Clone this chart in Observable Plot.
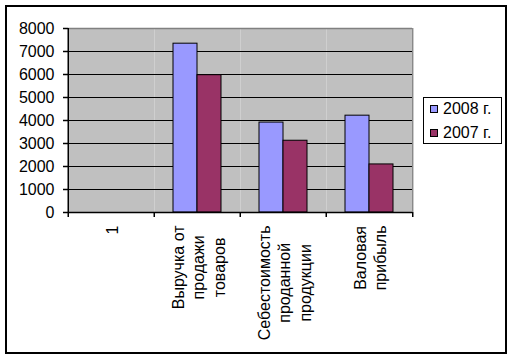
<!DOCTYPE html>
<html>
<head>
<meta charset="utf-8">
<script src="https://cdn.jsdelivr.net/npm/d3@7"></script>
<script src="https://cdn.jsdelivr.net/npm/@observablehq/plot@0.6"></script>
<style>
  html, body { margin: 0; padding: 0; background: #fff; }
  #wrap { position: relative; width: 513px; height: 359px; font-family: "Liberation Sans", Arial, sans-serif; }
  #wrap svg { position: absolute; left: 0; top: 0; }
  #border { position: absolute; left: 5px; top: 5px; width: 502px; height: 349px; box-sizing: border-box; border: 2px solid #000; pointer-events: none; }
  #legend { position: absolute; left: 423px; top: 97px; width: 79px; height: 47px; box-sizing: border-box; border: 1px solid #000; background: #fff; }
  .row { position: absolute; left: 6px; height: 18px; display: flex; align-items: center; font-size: 16px; color: #000; white-space: nowrap; }
  .sw { width: 8px; height: 8px; box-sizing: border-box; border: 1px solid #000; margin-right: 5px; }
</style>
</head>
<body>
<div id="wrap"><div id="legend"></div><div id="border"></div></div>
<script>
const categories = ["1", "Выручка от\nпродажи\nтоваров", "Себестоимость\nпроданной\nпродукции", "Валовая\nприбыль"];
const seriesNames = ["2008 г.", "2007 г."];
const values2008 = [null, 7340, 3910, 4210];
const values2007 = [null, 5970, 3120, 2090];
const yTicks = [0, 1000, 2000, 3000, 4000, 5000, 6000, 7000, 8000];
const colors = ["#9999FF", "#993366"];

const rows = categories.flatMap((c, i) => [
  {category: c, series: seriesNames[0], value: values2008[i]},
  {category: c, series: seriesNames[1], value: values2007[i]}
]);

const W = 513, H = 359, mL = 67, mR = 100, mT = 28, mB = 147;
const facetW = (W - mL - mR) / categories.length;
const font = "'Liberation Sans', Arial, sans-serif";
const fs = 16;

// measure longest line of each label to place the rotated block just below the axis
const ctx = document.createElement("canvas").getContext("2d");
ctx.font = fs + "px 'Liberation Sans'";
const longest = c => d3.max(c.split("\n"), s => ctx.measureText(s).width);

const labelMarks = categories.map(c => Plot.text([c], {
  fx: d => d, text: d => d, frameAnchor: "bottom", rotate: -90,
  textAnchor: "middle", lineAnchor: "middle", lineHeight: 1.28,
  fontSize: fs, fill: "black", dy: 13 + longest(c) / 2
}));

const chart = Plot.plot({
  width: W, height: H,
  marginLeft: mL, marginRight: mR, marginTop: mT, marginBottom: mB,
  style: {fontFamily: font, fontSize: fs + "px", background: "transparent", color: "black"},
  fx: {domain: categories, padding: 0, axis: null, label: null},
  x: {domain: seriesNames, paddingInner: 0, paddingOuter: 0.75, axis: null, label: null},
  y: {domain: [0, 8000], axis: null, label: null},
  color: {domain: seriesNames, range: colors},
  marks: [
    Plot.frame({fill: "#C0C0C0", stroke: null}),
    Plot.ruleY(yTicks.slice(1, -1), {stroke: "black", strokeWidth: 1}),
    Plot.ruleY([8000], {stroke: "#808080", strokeWidth: 1.3}),
    Plot.ruleX([categories[categories.length - 1]], {fx: d => d, x: null, dx: facetW / 2, stroke: "#808080", strokeWidth: 1.3}),
    Plot.barY(rows, {fx: "category", x: "series", y: "value", fill: "series", stroke: "black", strokeWidth: 1}),
    Plot.ruleY([0], {stroke: "black", strokeWidth: 1.5}),
    Plot.ruleX([categories[0]], {fx: d => d, x: null, dx: -facetW / 2, stroke: "black", strokeWidth: 1.5}),
    Plot.ruleX(categories, {fx: d => d, x: null, dx: -facetW / 2, insetTop: H - mT - mB, insetBottom: -5, stroke: "black", strokeWidth: 1.5}),
    Plot.ruleX([categories[categories.length - 1]], {fx: d => d, x: null, dx: facetW / 2, insetTop: H - mT - mB, insetBottom: -5, stroke: "black", strokeWidth: 1.5}),
    Plot.axisY({ticks: yTicks, tickSize: 5, tickPadding: 9, tickFormat: d => String(d), label: null, fontSize: fs, stroke: "black", strokeWidth: 1.5, fill: "black"}),
    ...labelMarks
  ]
});

document.getElementById("wrap").prepend(chart);

const legend = document.getElementById("legend");
seriesNames.forEach((s, i) => {
  const row = document.createElement("div");
  row.className = "row";
  row.style.top = (2 + i * 23.5) + "px";
  const sw = document.createElement("div");
  sw.className = "sw";
  sw.style.background = colors[i];
  const t = document.createElement("span");
  t.textContent = s;
  row.append(sw, t);
  legend.append(row);
});
</script>
</body>
</html>
